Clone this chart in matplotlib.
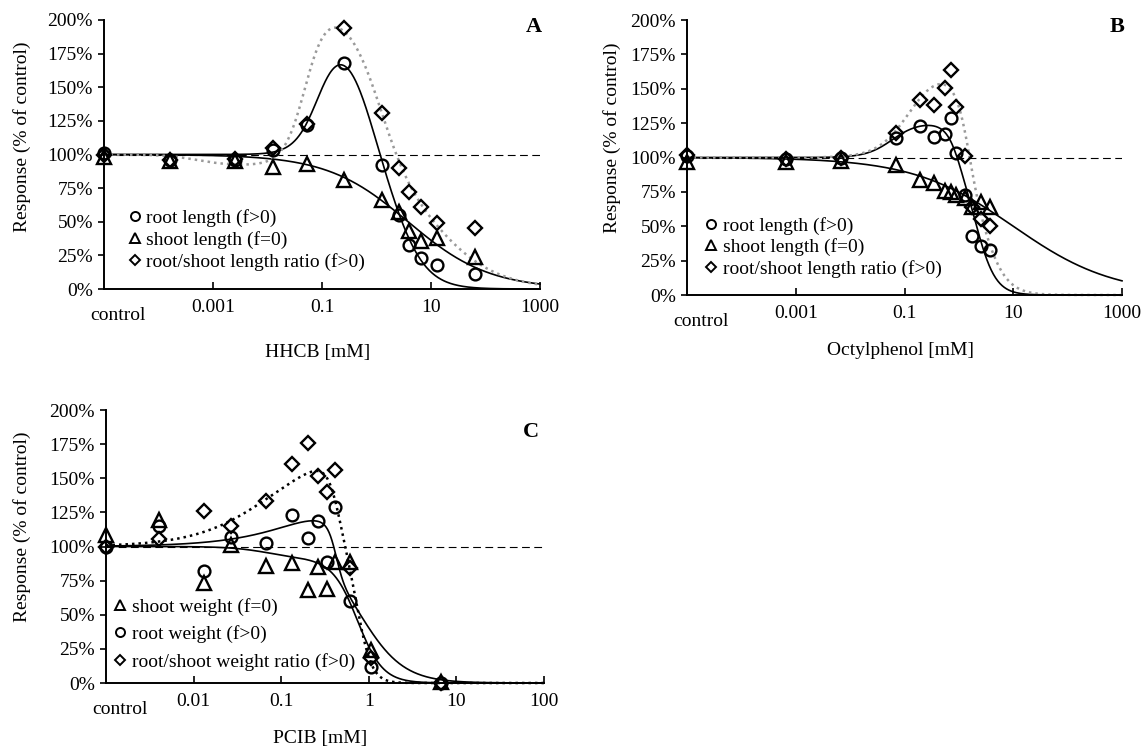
import numpy as np
import matplotlib
matplotlib.use("Agg")
import matplotlib.pyplot as plt
from matplotlib.lines import Line2D

plt.rcParams['font.family'] = ['Liberation Serif', 'DejaVu Serif']
plt.rcParams['font.size'] = 14

# ---------------- data ----------------
# Panel A: HHCB (first value = control)
hhcb_conc  = [1e-5, 1.6e-4, 2.5e-3, 0.0126, 0.053, 0.25, 1.25, 2.6, 4.0, 6.6, 12.9, 65.0]
hhcb_root  = [101, 96, 96, 103, 122, 168, 92, 55, 33, 23, 18, 11]
hhcb_shoot = [98, 95, 95, 91, 93, 81, 66, 57, 43, 36, 38, 23.5]
hhcb_ratio = [100, 96, 97, 105, 123, 194, 131, 90, 72, 61, 49, 45]

# Panel B: Octylphenol
oct_conc  = [1e-5, 6.5e-4, 6.8e-3, 0.070, 0.194, 0.352, 0.563, 0.726, 0.90, 1.32, 1.78, 2.5, 3.66]
oct_root  = [101, 99, 99.5, 114, 123, 115, 117, 128.7, 103, 72.7, 43, 36, 33]
oct_shoot = [97, 97, 97.5, 94.5, 84, 81.5, 76, 75, 73, 70.5, 64, 68, 64]
oct_ratio = [102, 99, 99.5, 118, 142, 138, 150.7, 163.6, 137, 101, 64, 55, 50]

# Panel C: PCIB
pcib_conc  = [1e-3, 0.004, 0.0132, 0.0267, 0.067, 0.133, 0.2, 0.265, 0.336, 0.416, 0.61, 1.06, 6.7]
pcib_shoot = [108.4, 119.4, 73, 101, 85.7, 88, 68, 85, 68.6, 88.9, 88.9, 24, 0.5]
pcib_root  = [100, 115, 82, 107, 102.5, 123, 106, 119, 88.7, 129, 60, 12, 0]
pcib_ratio = [100, 105.5, 126, 115, 133, 160.4, 176, 152, 140, 156, 84, 18, 0]

# fitted dose-response curves: (e, b, humps), hump = (amp, xa, ka, xb, kb)
INF = np.inf
hhcb_root_fit  = (2.6, 1.45, [(0.95, 0.09, 2.0, 0.75, 1.6)])
hhcb_shoot_fit = (3.8, 0.585, [])
hhcb_ratio_fit = (12.3, 0.75, [(-0.08, 5e-4, 1.5, INF, 1.0), (1.24, 0.05, 2.2, 1.27, 1.45)])
oct_root_fit   = (2.1, 2.4, [(0.26, 0.06, 1.8, 0.97, 4.0)])
oct_shoot_fit  = (10.0, 0.47, [])
oct_ratio_fit  = (2.78, 2.0, [(0.66, 0.123, 1.5, 1.58, 4.0)])
pcib_shoot_fit = (0.72, 3.0, [(-0.09, 0.07, 2.0, 0.7, 3.0)])
pcib_root_fit  = (0.8, 1.75, [(3.2, 3.0, 0.85, 0.416, 9.0)])
pcib_ratio_fit = (0.759, 5.3, [(0.76, 0.08, 1.0, 0.445, 6.0)])

yticks = [0, 25, 50, 75, 100, 125, 150, 175, 200]


def response(x, e, b, humps):
    m = np.ones_like(x)
    for amp, xa, ka, xb, kb in humps:
        m = m + amp / (1 + (xa / x) ** ka) / (1 + (x / xb) ** kb)
    return 100 * m / (1 + (x / e) ** b)


W, H = 1146, 749
fig = plt.figure(figsize=(W / 100, H / 100), dpi=100)


def px_axes(l, r, t, b):
    return fig.add_axes([l / W, 1 - b / H, (r - l) / W, (b - t) / H])


MK = {'o': dict(marker='o', ms=8.5), '^': dict(marker='^', ms=9.5), 'D': dict(marker='D', ms=7)}
LMK = {'o': dict(marker='o', ms=6.5), '^': dict(marker='^', ms=7), 'D': dict(marker='D', ms=5)}


def panel(ax, conc, series, xlim, ticks, ticklabels, xlabel, xlabel_xy, letter, letter_xy,
          leg_anchor, leg_spacing, ylabel_xy):
    xs = np.logspace(np.log10(xlim[0]), np.log10(xlim[1]), 600)
    ax.axhline(100, color='black', lw=0.8, ls=(0, (7, 4)), zorder=1)
    handles = []
    for vals, mk, fit, style, label in series:
        ax.plot(xs, response(xs, *fit), zorder=2, clip_on=False, **style)
    for vals, mk, fit, style, label in series:
        ax.plot(conc, vals, ls='none', mfc='none', mec='black', mew=1.7, zorder=3,
                clip_on=False, **MK[mk])
        handles.append(Line2D([], [], ls='none', mfc='none', mec='black', mew=1.4, **LMK[mk]))
    ax.set_xscale('log')
    ax.set_xlim(*xlim)
    ax.set_ylim(0, 200)
    ax.set_yticks(yticks)
    ax.set_yticklabels([f'{v}%' for v in yticks])
    ax.set_xticks(ticks)
    ax.set_xticklabels(ticklabels)
    ax.xaxis.set_minor_locator(matplotlib.ticker.NullLocator())
    ax.tick_params(axis='x', direction='in', length=5, width=1.2, pad=7, labelsize=14)
    ax.tick_params(axis='y', direction='out', length=4, width=1.2, pad=4, labelsize=14)
    for s in ['top', 'right']:
        ax.spines[s].set_visible(False)
    for s in ['left', 'bottom']:
        ax.spines[s].set_linewidth(1.4)
    ax.annotate('control', xy=(xlim[0], 0), xycoords=('data', 'axes fraction'),
                xytext=(10, -19), textcoords='offset points', ha='center', va='center',
                fontsize=14)
    fig.text(xlabel_xy[0] / W, 1 - xlabel_xy[1] / H, xlabel, ha='center', va='center', fontsize=14)
    fig.text(ylabel_xy[0] / W, 1 - ylabel_xy[1] / H, 'Response (% of control)', rotation=90,
             ha='center', va='center', fontsize=14)
    fig.text(letter_xy[0] / W, 1 - letter_xy[1] / H, letter, ha='center', va='center',
             fontsize=16, fontweight='bold')
    ax.legend(handles, [s[4] for s in series], loc='upper left', bbox_to_anchor=leg_anchor,
              frameon=False, borderpad=0, borderaxespad=0, handlelength=0.9, handletextpad=0.15,
              labelspacing=leg_spacing, fontsize=14)


solid = dict(color='black', lw=1.2, ls='-')
gray_dot = dict(color='#9a9a9a', lw=1.8, ls=(0, (1, 1.6)))
black_dot = dict(color='black', lw=1.8, ls=(0, (1, 1.6)))

axA = px_axes(104, 540, 20, 289)
panel(axA, hhcb_conc,
      [(hhcb_root, 'o', hhcb_root_fit, solid, 'root length (f>0)'),
       (hhcb_shoot, '^', hhcb_shoot_fit, solid, 'shoot length (f=0)'),
       (hhcb_ratio, 'D', hhcb_ratio_fit, gray_dot, 'root/shoot length ratio (f>0)')],
      (1e-5, 1e3), [1e-3, 1e-1, 1e1, 1e3], ['0.001', '0.1', '10', '1000'],
      'HHCB [mM]', (318, 352), 'A', (534, 27), (0.05, 0.297), 0.2, (22, 137))

axB = px_axes(687, 1122, 20, 295)
panel(axB, oct_conc,
      [(oct_root, 'o', oct_root_fit, solid, 'root length (f>0)'),
       (oct_shoot, '^', oct_shoot_fit, solid, 'shoot length (f=0)'),
       (oct_ratio, 'D', oct_ratio_fit, gray_dot, 'root/shoot length ratio (f>0)')],
      (1e-5, 1e3), [1e-3, 1e-1, 1e1, 1e3], ['0.001', '0.1', '10', '1000'],
      'Octylphenol [mM]', (900, 350), 'B', (1117, 27), (0.035, 0.284), 0.18, (612, 138))

axC = px_axes(106, 544, 410, 683)
panel(axC, pcib_conc,
      [(pcib_shoot, '^', pcib_shoot_fit, solid, 'shoot weight (f=0)'),
       (pcib_root, 'o', pcib_root_fit, solid, 'root weight (f>0)'),
       (pcib_ratio, 'D', pcib_ratio_fit, black_dot, 'root/shoot weight ratio (f>0)')],
      (1e-3, 1e2), [1e-2, 1e-1, 1, 1e1, 1e2], ['0.01', '0.1', '1', '10', '100'],
      'PCIB [mM]', (320, 738), 'C', (531, 432), (0.012, 0.311), 0.48, (22, 527))

fig.savefig('out.png', dpi=100)
